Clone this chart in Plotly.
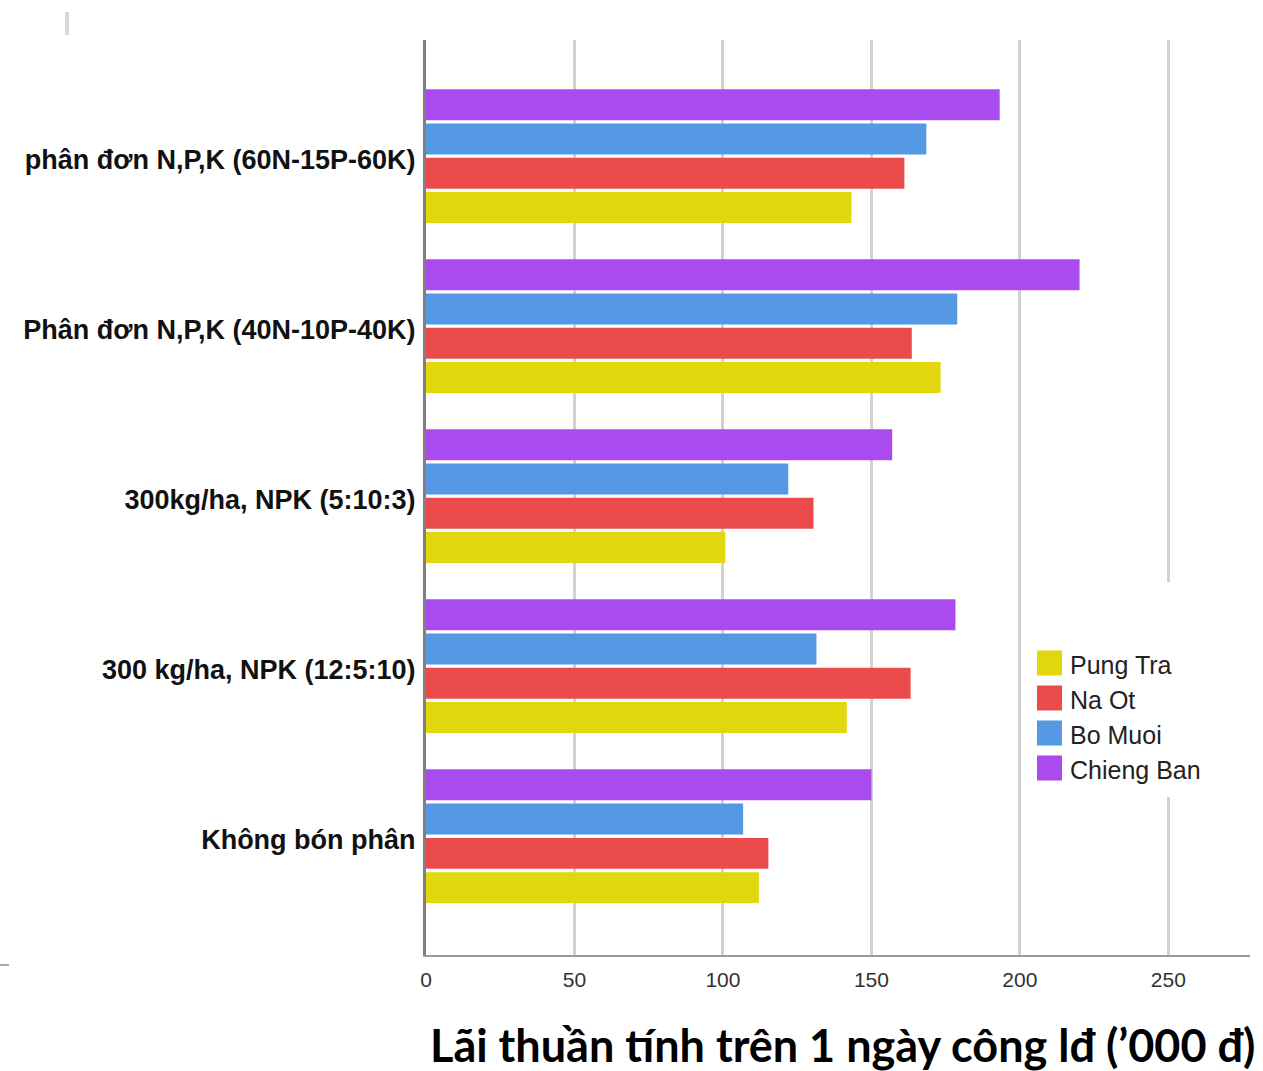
import plotly.graph_objects as go

# Treatments, listed bottom to top as they appear on the category axis
categories = [
    "Không bón phân",
    "300 kg/ha, NPK (12:5:10)",
    "300kg/ha, NPK (5:10:3)",
    "Phân đơn N,P,K (40N-10P-40K)",
    "phân đơn N,P,K (60N-15P-60K)",
]

series_names = ["Pung Tra", "Na Ot", "Bo Muoi", "Chieng Ban"]
pung_tra = [112.1, 141.7, 100.8, 173.3, 143.3]
na_ot = [115.3, 163.2, 130.5, 163.6, 161.1]
bo_muoi = [106.8, 131.5, 122.0, 178.9, 168.5]
chieng_ban = [150.0, 178.3, 157.0, 220.1, 193.2]
series_values = [pung_tra, na_ot, bo_muoi, chieng_ban]

x_ticks = [0, 50, 100, 150, 200, 250]
x_title = "Lãi thuần tính trên 1 ngày công lđ (’000 đ)"

colors = ["#E2D60D", "#EB4B4B", "#5598E3", "#AA4BF0"]

W, H = 1263, 1071
ML, MR, MT, MB = 426, 13, 40, 116
PW, PH = W - ML - MR, H - MT - MB
X_MAX = 277.5


def px_x(px):
    return (px - ML) / PW


def px_y(py):
    return (H - MB - py) / PH


fig = go.Figure()
for name, vals, col in zip(series_names, series_values, colors):
    fig.add_trace(go.Bar(
        y=categories, x=vals, name=name, orientation="h",
        marker=dict(color=col, line=dict(width=0)),
        showlegend=False,
    ))

shapes = []
# white panel behind the legend, interrupting the grid
shapes.append(dict(type="rect", xref="paper", yref="paper",
                   x0=px_x(1030), x1=px_x(1215), y0=px_y(797), y1=px_y(582),
                   fillcolor="white", line=dict(width=0), layer="above"))

annotations = []
# legend: square swatch plus series name
for i, (name, col) in enumerate(zip(series_names, colors)):
    cy = 663 + 35 * i
    shapes.append(dict(type="rect", xref="paper", yref="paper",
                       x0=px_x(1037), x1=px_x(1062),
                       y0=px_y(cy + 12.5), y1=px_y(cy - 12.5),
                       fillcolor=col, line=dict(width=0), layer="above"))
    annotations.append(dict(text=name, xref="paper", yref="paper",
                            x=px_x(1068), y=px_y(cy + 2), xanchor="left",
                            yanchor="middle", showarrow=False,
                            font=dict(family="Liberation Sans, Arial", size=25,
                                      color="#222222")))

# small stray strokes at the edges
shapes.append(dict(type="line", xref="paper", yref="paper",
                   x0=px_x(67), x1=px_x(67), y0=px_y(35), y1=px_y(12),
                   line=dict(color="#d8d8d8", width=4), layer="above"))
shapes.append(dict(type="line", xref="paper", yref="paper",
                   x0=px_x(0), x1=px_x(9), y0=px_y(965), y1=px_y(965),
                   line=dict(color="#aaaaaa", width=2), layer="above"))

# axis title
annotations.append(dict(text=x_title, xref="paper", yref="paper",
                        x=px_x(1257), y=px_y(1045), xanchor="right",
                        yanchor="middle", showarrow=False,
                        font=dict(family="Lato", size=45, color="#000000",
                                  weight="bold")))

fig.update_layout(
    width=W, height=H,
    margin=dict(l=ML, r=MR, t=MT, b=MB, pad=0),
    paper_bgcolor="white", plot_bgcolor="white",
    barmode="group", bargap=0.194, bargroupgap=0.1,
    showlegend=False,
    shapes=shapes, annotations=annotations,
    xaxis=dict(
        range=[0, X_MAX], tickvals=x_ticks,
        showgrid=True, gridcolor="#d2d2d2", gridwidth=3,
        zeroline=False, showline=True, linecolor="#9a9a9a", linewidth=2,
        ticks="", ticklabelstandoff=5,
        tickfont=dict(family="Liberation Sans, Arial", size=21, color="#333333"),
        fixedrange=True,
    ),
    yaxis=dict(
        type="category", categoryorder="array", categoryarray=categories,
        range=[-0.699, 4.683],
        showgrid=False, zeroline=False,
        showline=True, linecolor="#808080", linewidth=3,
        ticks="", ticklabelstandoff=2, ticklabelshift=3,
        tickfont=dict(family="Liberation Sans, Arial", size=27, color="#111111",
                      weight="bold"),
        fixedrange=True,
    ),
)

fig.write_html("out.html")
